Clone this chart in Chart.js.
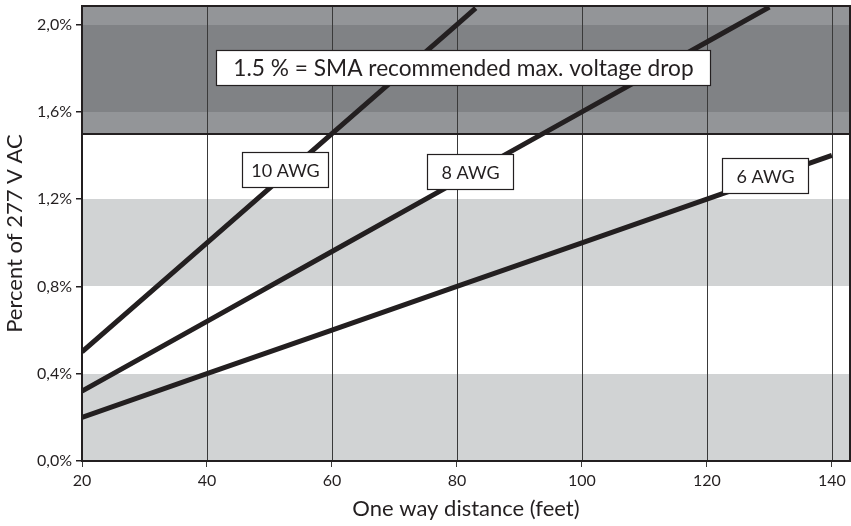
<!DOCTYPE html>
<html>
<head>
<meta charset="utf-8">
<script src="https://cdn.jsdelivr.net/npm/chart.js@4.4.1/dist/chart.umd.min.js"></script>
<style>
html,body{margin:0;padding:0;background:#fff;}
#wrap{width:851px;height:526px;}
</style>
</head>
<body>
<div id="wrap"><canvas id="c" width="851" height="526"></canvas></div>
<script>
// ---- data ----
const xTicks = [20, 40, 60, 80, 100, 120, 140];
const yTicks = [0, 0.4, 0.8, 1.2, 1.6, 2.0];
const awg10X = [20, 40, 60, 80, 83];
const awg10Y = [0.5, 1.0, 1.5, 2.0, 2.075];
const awg8X = [20, 40, 60, 80, 100, 120, 130];
const awg8Y = [0.32, 0.64, 0.96, 1.28, 1.6, 1.92, 2.08];
const awg6X = [20, 40, 60, 80, 100, 120, 140];
const awg6Y = [0.2, 0.4, 0.6, 0.8, 1.0, 1.2, 1.4];
const seriesNames = ['10 AWG', '8 AWG', '6 AWG'];
const limitValue = 1.5;
const limitText = '1.5 % = SMA recommended max. voltage drop';
// background bands [from, to, colour]
const bandFrom = [0, 0.8, 1.5, 1.6, 2.0];
const bandTo = [0.4, 1.2, 1.6, 2.0, 3.0];
const bandColors = ['#d1d3d4', '#d1d3d4', '#939598', '#808285', '#939598'];
// label anchors (data units)
const labelX = [52.6, 82.2, 129.3];
const labelY = [1.333, 1.324, 1.306];
const limitLabelX = 81.0, limitLabelY = 1.80;

const FONT = 'Lato, "Open Sans", sans-serif';
const INK = '#231f20';

const toPts = (xs, ys) => xs.map((x, i) => ({x: x, y: ys[i]}));

const bandsPlugin = {
  id: 'bands',
  beforeDatasetsDraw(chart) {
    const {ctx, chartArea: a, scales: {x, y}} = chart;
    ctx.save();
    ctx.beginPath(); ctx.rect(a.left, a.top, a.right - a.left, a.bottom - a.top); ctx.clip();
    for (let i = 0; i < bandFrom.length; i++) {
      const y1 = Math.round(y.getPixelForValue(bandTo[i]));
      const y2 = Math.round(y.getPixelForValue(bandFrom[i]));
      ctx.fillStyle = bandColors[i];
      ctx.fillRect(a.left, y1, a.right - a.left, y2 - y1);
    }
    // vertical grid lines
    ctx.strokeStyle = '#3a3a3a'; ctx.lineWidth = 1;
    xTicks.forEach(v => {
      if (v <= x.min) return;
      const px = Math.round(x.getPixelForValue(v)) + 0.5;
      ctx.beginPath(); ctx.moveTo(px, a.top); ctx.lineTo(px, a.bottom); ctx.stroke();
    });
    // limit line
    const ly = Math.round(y.getPixelForValue(limitValue));
    ctx.strokeStyle = INK; ctx.lineWidth = 2;
    ctx.beginPath(); ctx.moveTo(a.left, ly); ctx.lineTo(a.right, ly); ctx.stroke();
    ctx.restore();
  },
  afterDatasetsDraw(chart) {
    const {ctx, chartArea: a, scales: {x, y}} = chart;
    ctx.save();
    ctx.strokeStyle = INK; ctx.lineWidth = 2;
    ctx.strokeRect(a.left, a.top, a.right - a.left, a.bottom - a.top);
    const box = (cx, cy, w, h, text, size) => {
      const l = Math.round(cx - w / 2), t = Math.round(cy - h / 2);
      ctx.fillStyle = '#fff';
      ctx.fillRect(l, t, w, h);
      ctx.lineWidth = 1.2; ctx.strokeStyle = INK;
      ctx.strokeRect(l + 0.5, t + 0.5, w - 1, h - 1);
      ctx.fillStyle = INK;
      ctx.font = size + 'px ' + FONT;
      ctx.textAlign = 'center'; ctx.textBaseline = 'middle';
      ctx.fillText(text, l + w / 2, t + h / 2 + 1);
    };
    box(x.getPixelForValue(limitLabelX), y.getPixelForValue(limitLabelY), 495, 36, limitText, 22.7);
    seriesNames.forEach((n, i) => {
      box(x.getPixelForValue(labelX[i]), y.getPixelForValue(labelY[i]), 87, 36, n, 18);
    });
    ctx.restore();
  }
};

const lineDs = (label, xs, ys) => ({
  label: label,
  data: toPts(xs, ys),
  borderColor: INK,
  borderWidth: 5,
  pointRadius: 0,
  tension: 0,
  fill: false,
  borderCapStyle: 'butt'
});

new Chart(document.getElementById('c'), {
  type: 'line',
  data: {
    datasets: [
      lineDs(seriesNames[0], awg10X, awg10Y),
      lineDs(seriesNames[1], awg8X, awg8Y),
      lineDs(seriesNames[2], awg6X, awg6Y)
    ]
  },
  options: {
    responsive: false,
    animation: false,
    devicePixelRatio: 1,
    layout: {padding: {top: 6, right: 1, left: 0, bottom: 0}},
    plugins: {legend: {display: false}, tooltip: {enabled: false}},
    scales: {
      x: {
        type: 'linear',
        min: 20, max: 142.9,
        afterBuildTicks: s => { s.ticks = xTicks.map(v => ({value: v})); },
        afterFit: s => { s.height = 65; s.paddingLeft = 0; s.paddingRight = 0; },
        grid: {drawOnChartArea: false, drawTicks: true, tickLength: 6, color: '#3a3a3a', lineWidth: 1},
        border: {display: false},
        ticks: {color: INK, font: {family: FONT, size: 16}, padding: 4, maxRotation: 0},
        title: {display: true, text: 'One way distance (feet)', color: INK, font: {family: FONT, size: 22}, padding: {top: 0, bottom: 4}}
      },
      y: {
        min: 0, max: 2.085,
        afterBuildTicks: s => { s.ticks = yTicks.map(v => ({value: v})); },
        afterFit: s => { s.width = 82; s.paddingTop = 0; s.paddingBottom = 0; },
        grid: {drawOnChartArea: false, drawTicks: true, tickLength: 6, color: INK, lineWidth: 1.5},
        border: {display: false},
        ticks: {color: INK, font: {family: FONT, size: 16}, padding: 4,
          callback: v => v.toFixed(1).replace('.', ',') + '%'},
        title: {display: true, text: 'Percent of 277 V AC', color: INK, font: {family: FONT, size: 22}, padding: {top: 2, bottom: 0}}
      }
    }
  },
  plugins: [bandsPlugin]
});
</script>
</body>
</html>
